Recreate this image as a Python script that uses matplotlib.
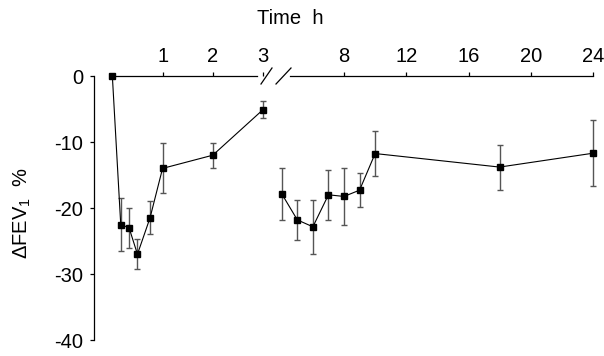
import numpy as np
import matplotlib
matplotlib.use('Agg')
import matplotlib.pyplot as plt
from matplotlib.lines import Line2D

plt.rcParams['font.family'] = ['Liberation Sans', 'DejaVu Sans']
plt.rcParams['mathtext.default'] = 'regular'
plt.rcParams['axes.unicode_minus'] = False
plt.rcParams['font.size'] = 14.5

# data
t_early = [0, 0.167, 0.333, 0.5, 0.75, 1, 2, 3]
fev_early = [0, -22.5, -23.0, -27.0, -21.5, -14.0, -12.0, -5.1]
err_early = [0, 4.0, 3.0, 2.3, 2.5, 3.8, 1.9, 1.3]

t_late = [4, 5, 6, 7, 8, 9, 10, 18, 24]
fev_late = [-17.85, -21.8, -22.85, -18.0, -18.25, -17.3, -11.75, -13.8, -11.7]
err_late = [3.95, 3.0, 4.05, 3.8, 4.35, 2.6, 3.35, 3.4, 5.0]

ticks_early = [1, 2, 3]
ticks_late = [8, 12, 16, 20, 24]
yticks = [0, -10, -20, -30, -40]

W, H = 604, 356
fig = plt.figure(figsize=(W / 100, H / 100), dpi=100)

def px(x0, y0, x1, y1):
    # pixel box -> figure fraction rect
    return [x0 / W, 1 - y1 / H, (x1 - x0) / W, (y1 - y0) / H]

ax1 = fig.add_axes(px(94, 76, 263, 340))
ax2 = fig.add_axes(px(290, 76, 600, 340))

ax1.set_xlim(-19 / 52, 150 / 52)
ax2.set_xlim(8 - 54 / 15.5625, 8 + 256 / 15.5625)

style = dict(fmt='-s', color='black', ms=4.5, lw=0.8, ecolor='#555555',
             elinewidth=1.0, capsize=2.4, capthick=1.0, clip_on=False)
eb1 = ax1.errorbar(t_early, fev_early, yerr=err_early, **style)
eb2 = ax2.errorbar(t_late, fev_late, yerr=err_late, **style)
for eb in (eb1, eb2):
    for a in eb.lines[1] + eb.lines[2]:
        a.set_clip_on(False)

for ax in (ax1, ax2):
    ax.set_ylim(-40, 0)
    ax.patch.set_visible(False)
    ax.spines['bottom'].set_visible(False)
    ax.spines['right'].set_visible(False)
    ax.spines['top'].set_linewidth(0.9)
    ax.xaxis.tick_top()
    ax.tick_params(axis='x', direction='out', length=3, width=0.9, pad=4)

ax1.spines['top'].set_bounds(0, ax1.get_xlim()[1])
ax1.spines['left'].set_bounds(-40, 0)
ax1.spines['left'].set_linewidth(0.9)
ax1.set_xticks(ticks_early)
ax1.set_yticks(yticks)
ax1.tick_params(axis='y', direction='out', length=3, width=0.9, pad=5)

ax2.spines['left'].set_visible(False)
ax2.spines['top'].set_bounds(ax2.get_xlim()[0], 24)
ax2.set_xticks(ticks_late)
ax2.set_yticks([])

# break marks
for (xa, ya, xb, yb) in [(261, 84, 272, 68), (276, 84, 291, 68)]:
    fig.add_artist(Line2D([xa / W, xb / W], [1 - ya / H, 1 - yb / H],
                          transform=fig.transFigure, color='black', lw=0.9))

fig.text(290 / W, 1 - 18 / H, 'Time  h', ha='center', va='center')
fig.text(22 / W, 1 - 213 / H, 'ΔFEV$_1$  %', ha='center', va='center',
         rotation=90)

fig.savefig('out.png', dpi=100)
